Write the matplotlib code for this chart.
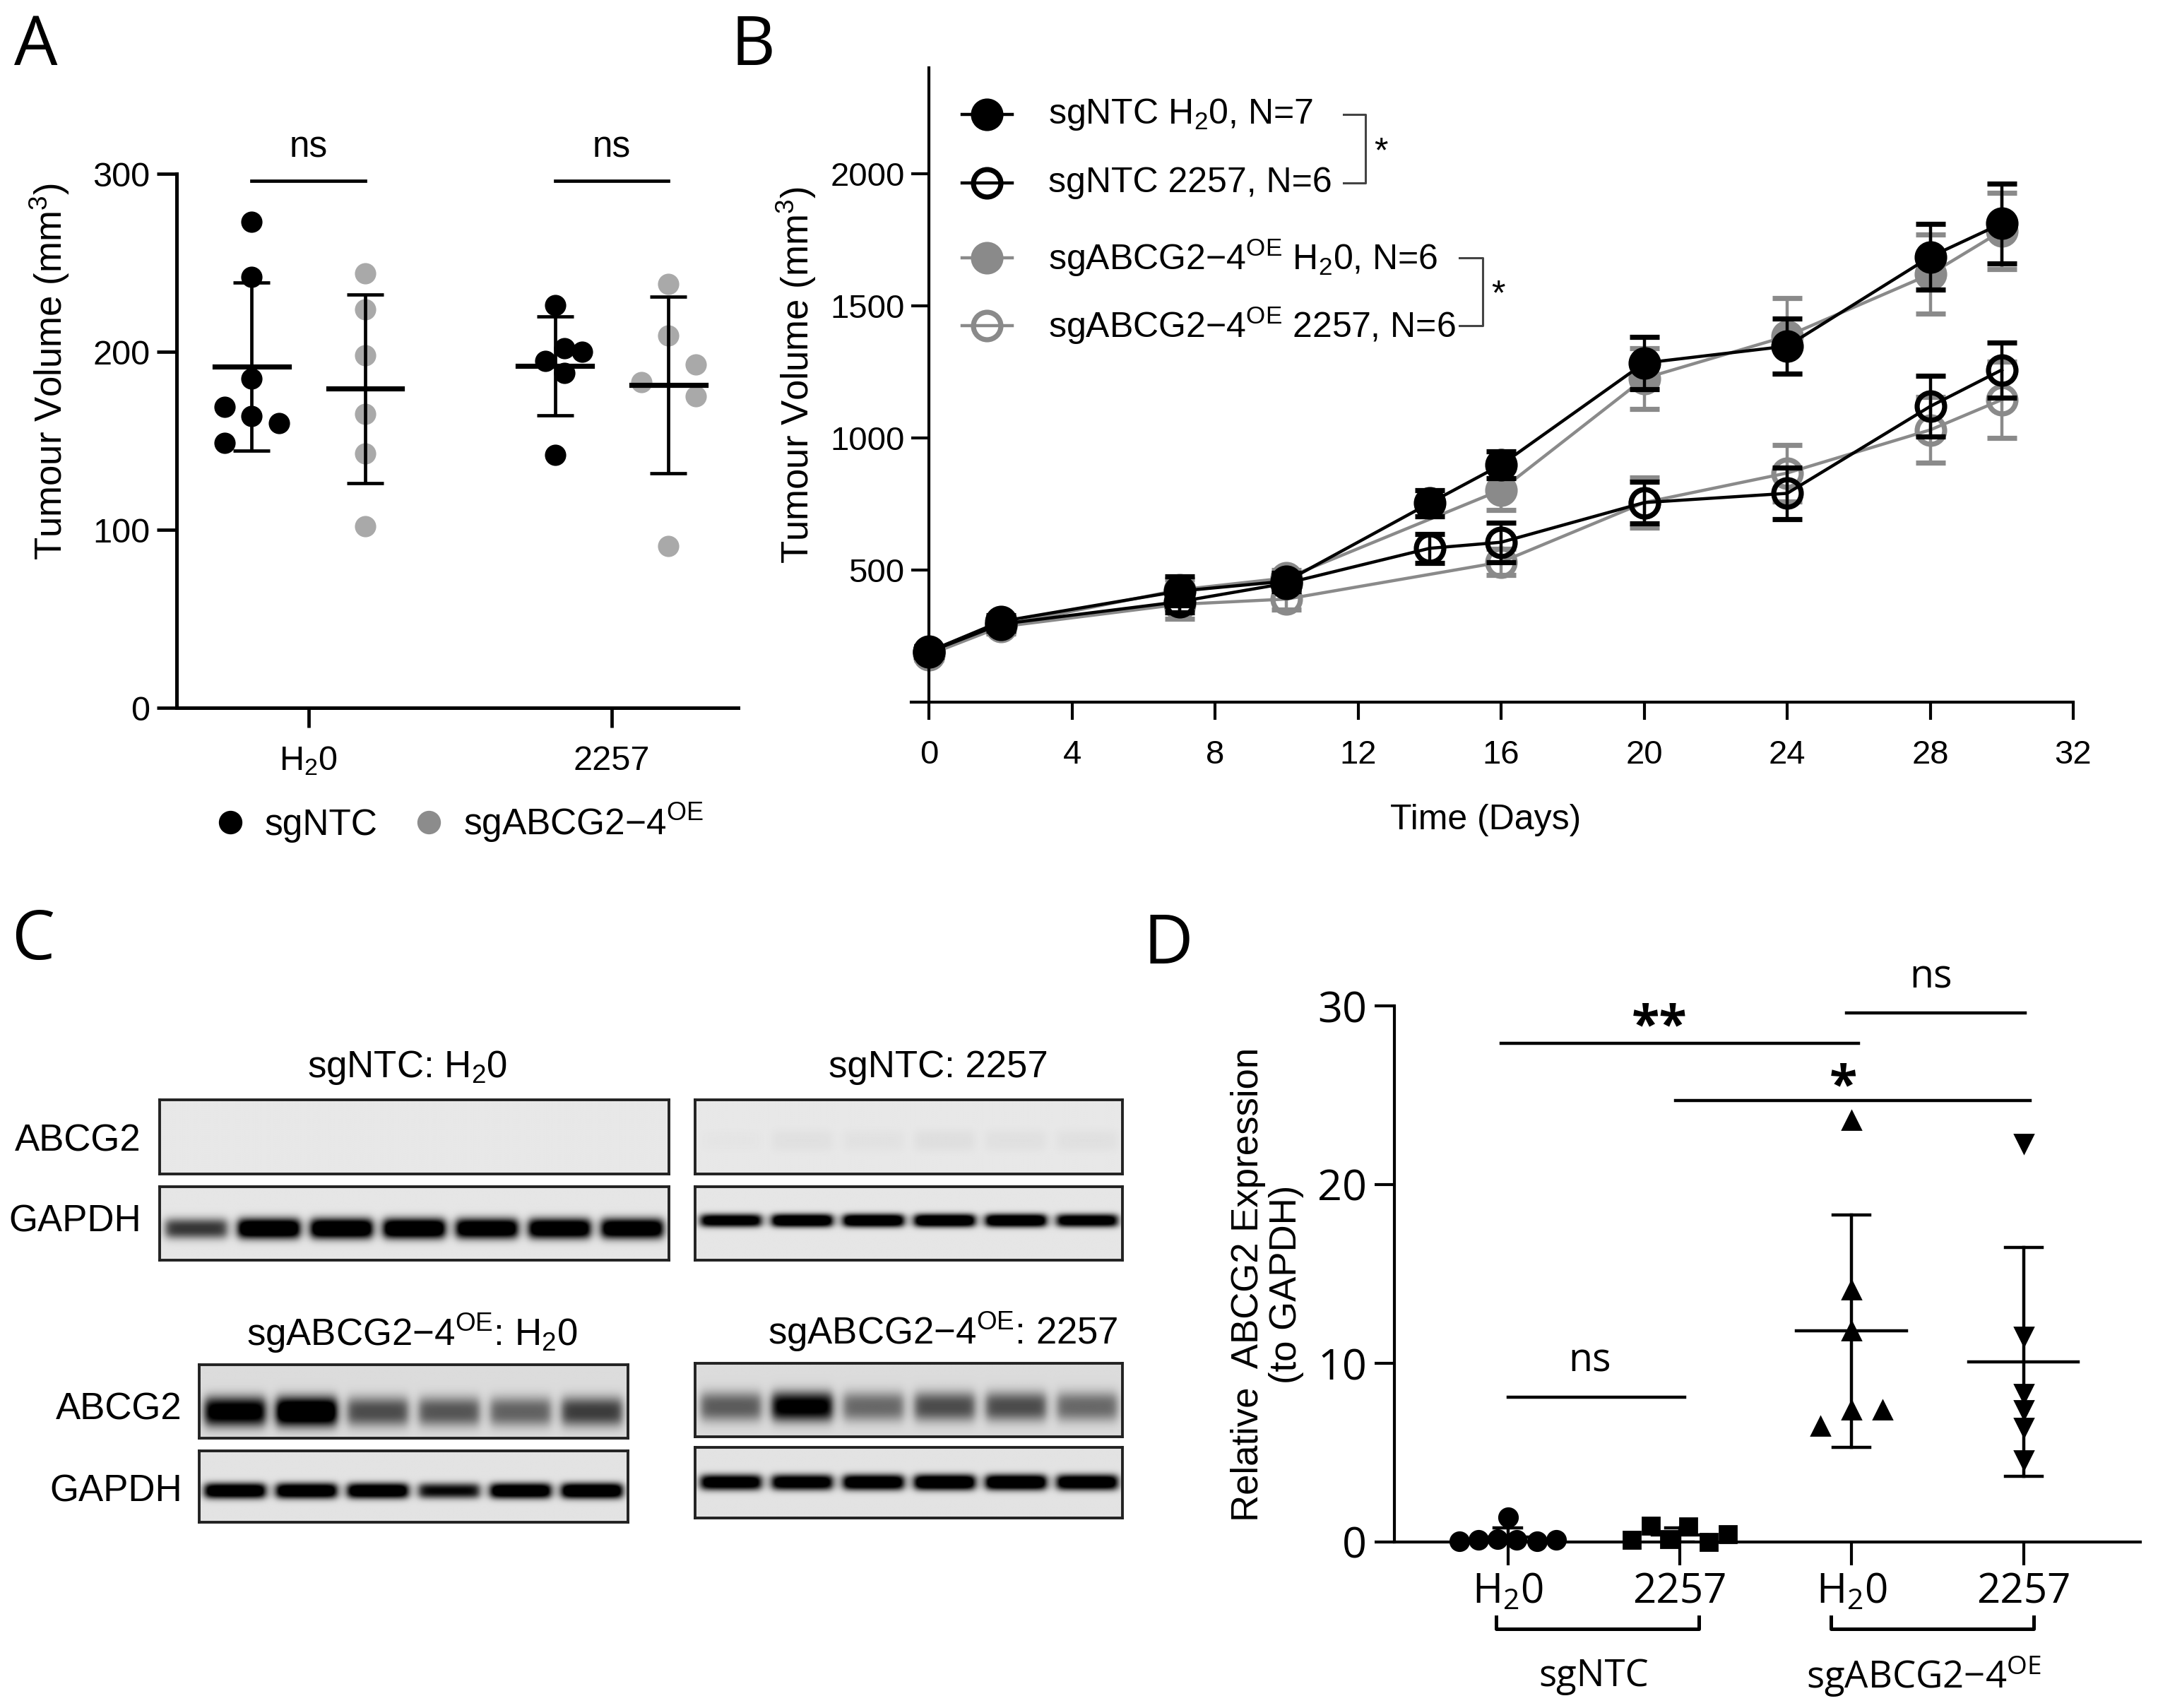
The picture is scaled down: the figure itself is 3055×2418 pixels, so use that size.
import numpy as np
import matplotlib
matplotlib.use("Agg")
import matplotlib.pyplot as plt
from matplotlib.lines import Line2D

plt.rcParams['font.family'] = ['Liberation Sans', 'DejaVu Sans']
plt.rcParams['mathtext.fontset'] = 'custom'
plt.rcParams['mathtext.rm'] = 'Liberation Sans'
plt.rcParams['mathtext.it'] = 'Liberation Sans:italic'
plt.rcParams['mathtext.bf'] = 'Liberation Sans:bold'

H2O = r'H$_{\mathregular{2}}$0'
OE = r'sgABCG2−4$^{\mathregular{OE}}$'

# ---- panel A: tumour volume at start, per group
a_groups = [H2O, '2257']
a_ntc_h2o = [273, 242, 185, 169, 164, 160, 149]
a_ntc_h2o_dx = [0, 0, 0, -0.09, 0, 0.09, -0.09]
a_oe_h2o = [244, 224, 198, 165, 143, 102]
a_oe_h2o_dx = [0, 0, 0, 0, 0, 0]
a_ntc_2257 = [226, 195, 202, 200, 188, 142]
a_ntc_2257_dx = [0, -0.033, 0.032, 0.09, 0.032, 0]
a_oe_2257 = [238, 209, 183, 193, 175, 91]
a_oe_2257_dx = [0, 0, -0.09, 0.09, 0.09, 0]

# ---- panel B: growth curves (mean +/- SEM)
days_ntc = [0, 2, 7, 10, 14, 16, 20, 24, 28, 30]
days_oe = [0, 2, 7, 10, 16, 20, 24, 28, 30]
ntc_h2o = [192, 305, 420, 458, 753, 898, 1283, 1347, 1685, 1811]
ntc_h2o_err = [20, 25, 55, 30, 50, 50, 100, 104, 125, 150]
ntc_2257 = [190, 295, 380, 450, 582, 605, 755, 790, 1119, 1257]
ntc_2257_err = [20, 25, 40, 30, 55, 75, 80, 98, 115, 104]
oe_h2o = [185, 290, 425, 470, 803, 1225, 1385, 1619, 1783]
oe_h2o_err = [20, 25, 40, 30, 75, 115, 143, 150, 145]
oe_2257 = [180, 285, 370, 390, 530, 755, 867, 1030, 1144]
oe_2257_err = [20, 25, 55, 40, 50, 95, 107, 125, 145]
b_labels = [r'sgNTC H$_{\mathregular{2}}$0, N=7', 'sgNTC 2257, N=6',
            r'sgABCG2−4$^{\mathregular{OE}}$ H$_{\mathregular{2}}$0, N=6',
            r'sgABCG2−4$^{\mathregular{OE}}$ 2257, N=6']

# ---- panel C: blot band intensities per lane
c_ntc_h2o_abcg2 = [0, 0, 0, 0, 0, 0, 0]
c_ntc_h2o_gapdh = [0.55, 1.0, 1.0, 1.0, 0.95, 0.95, 0.95]
c_ntc_2257_abcg2 = [0.01, 0.025, 0.02, 0.03, 0.025, 0.025]
c_ntc_2257_gapdh = [0.9, 1.0, 1.0, 1.0, 1.0, 0.9]
c_oe_h2o_abcg2 = [0.8, 0.95, 0.45, 0.42, 0.38, 0.5]
c_oe_h2o_gapdh = [0.95, 0.95, 0.95, 0.7, 0.95, 1.0]
c_oe_2257_abcg2 = [0.4, 0.75, 0.36, 0.45, 0.45, 0.36]
c_oe_2257_gapdh = [0.9, 0.9, 0.95, 1.0, 1.0, 0.95]

# ---- panel D: relative ABCG2 expression
d_ticklabels = [H2O, '2257', H2O, '2257']
d_ntc_h2o = [0.05, 0.1, 0.15, 1.4, 0.1, 0.05, 0.1]
d_ntc_h2o_dx = [-0.28, -0.17, -0.06, 0.0, 0.05, 0.17, 0.28]
d_ntc_2257 = [0.1, 0.9, 0.15, 0.85, 0.0, 0.45]
d_ntc_2257_dx = [-0.28, -0.17, -0.06, 0.05, 0.17, 0.28]
d_oe_h2o = [23.6, 14.1, 11.8, 6.5, 7.4, 7.4]
d_oe_h2o_dx = [0, 0, 0, -0.18, 0, 0.18]
d_oe_2257 = [22.3, 11.5, 8.3, 7.4, 6.4, 4.6]
d_oe_2257_dx = [0, 0, 0, 0, 0, 0]

W, H = 3055, 2418
fig = plt.figure(figsize=(W / 200, H / 200), dpi=200)


def fx(px):
    return px / W


def fy(py):
    return 1 - py / H


def style_axis(ax, lw=1.6):
    ax.spines['top'].set_visible(False)
    ax.spines['right'].set_visible(False)
    for s in ('left', 'bottom'):
        ax.spines[s].set_linewidth(lw)


letter_font = dict(family=['Open Sans', 'DejaVu Sans'], fontsize=35, va='top')
fig.text(fx(20), fy(18), 'A', **letter_font)
fig.text(fx(1034), fy(18), 'B', **letter_font)
fig.text(fx(16), fy(1284), 'C', **letter_font)
fig.text(fx(1618), fy(1290), 'D', **letter_font)

# ================= A =================
axA = fig.add_axes([fx(250), fy(1002), fx(1045) - fx(250), fy(246) - fy(1002)])
style_axis(axA, 1.8)
grey_a = '#a9a9a9'
a_sets = [(0, -1, a_ntc_h2o, a_ntc_h2o_dx, 'black'),
          (0, 1, a_oe_h2o, a_oe_h2o_dx, grey_a),
          (1, -1, a_ntc_2257, a_ntc_2257_dx, 'black'),
          (1, 1, a_oe_2257, a_oe_2257_dx, grey_a)]
for g, side, vals, dx, col in a_sets:
    xc = g + side * 0.187
    axA.scatter(xc + np.array(dx), vals, s=118, color=col, zorder=3, linewidths=0)
    m = np.mean(vals)
    sd = np.std(vals, ddof=1)
    axA.plot([xc - 0.122, xc + 0.122], [m, m], color='black', lw=2.6, zorder=4)
    axA.errorbar(xc, m, yerr=sd, color='black', capsize=9.5, capthick=1.7,
                 elinewidth=1.7, zorder=4)
for g in (0, 1):
    axA.plot([g - 0.187, g + 0.187], [296, 296], color='black', lw=1.7, clip_on=False)
    axA.text(g, 305, 'ns', ha='center', va='bottom', fontsize=18.5)
axA.set_xlim(-0.435, 1.417)
axA.set_ylim(0, 300)
axA.set_yticks([0, 100, 200, 300])
axA.set_xticks([0, 1])
axA.set_xticklabels(a_groups)
axA.tick_params(axis='both', labelsize=17.5, width=1.7, length=10)
axA.tick_params(axis='x', pad=9)
axA.set_ylabel(r'Tumour Volume (mm$^{\mathregular{3}}$)', fontsize=19)
axA.yaxis.set_label_coords(-0.188, 0.63)
a_handles = [Line2D([], [], ls='', marker='o', ms=11, color='black'),
             Line2D([], [], ls='', marker='o', ms=11, color='#8c8c8c')]
fig.legend(a_handles, ['sgNTC', OE], ncol=2, frameon=False, fontsize=18.5,
           loc='center', bbox_to_anchor=(fx(648), fy(1165)), handlelength=1.0,
           handletextpad=0.45, columnspacing=0.9)

# ================= B =================
axB = fig.add_axes([fx(1290), fy(994), fx(2935) - fx(1290), fy(96) - fy(994)])
style_axis(axB, 1.5)
axB.spines['left'].set_position(('data', 0))
grey_b = '#8a8a8a'
b_series = [(days_oe, oe_2257, oe_2257_err, grey_b, 'none', 2),
            (days_oe, oe_h2o, oe_h2o_err, grey_b, grey_b, 2),
            (days_ntc, ntc_2257, ntc_2257_err, 'black', 'none', 3),
            (days_ntc, ntc_h2o, ntc_h2o_err, 'black', 'black', 3)]
for days, vals, err, col, face, z in b_series:
    axB.errorbar(days, vals, yerr=err, color=col, marker='o', ms=14, mfc=face,
                 mec=col, mew=2.6, lw=1.6, capsize=7.5, capthick=2.0,
                 elinewidth=1.6, zorder=z, clip_on=False)
axB.set_xlim(-0.5, 32)
axB.set_ylim(0, 2400)
axB.set_xticks(range(0, 33, 4))
axB.set_yticks([500, 1000, 1500, 2000])
axB.tick_params(axis='both', labelsize=17, width=1.5, length=9)
axB.tick_params(axis='x', pad=10)
axB.set_xlabel('Time (Days)', fontsize=18)
axB.xaxis.set_label_coords(0.494, -0.16)
axB.set_ylabel(r'Tumour Volume (mm$^{\mathregular{3}}$)', fontsize=19)
axB.yaxis.set_label_coords(-0.08, 0.516)

# hand-built legend with significance brackets
rows = [0.926, 0.818, 0.700, 0.5935]
styles = [('black', 'black'), ('black', 'none'), (grey_b, grey_b), (grey_b, 'none')]
for yy, (col, face), lab in zip(rows, styles, b_labels):
    axB.plot([0.044, 0.0651, 0.087], [yy, yy, yy], color=col, lw=1.6, marker='o',
             markevery=[1], ms=14, mfc=face, mec=col, mew=2.6,
             transform=axB.transAxes, clip_on=False)
    axB.text(0.118, yy, lab, transform=axB.transAxes, fontsize=18, va='center')
for (y1, y2, x0, x1) in [(rows[0], rows[1], 0.372, 0.3906), (rows[2], rows[3], 0.472, 0.4915)]:
    axB.plot([x0, x1, x1, x0], [y1, y1, y2, y2], color='#444444', lw=1.1,
             transform=axB.transAxes, clip_on=False)
    axB.text(x1 + 0.008, (y1 + y2) / 2 - 0.006, '*', transform=axB.transAxes,
             fontsize=18, ha='left', va='center')


# ================= C =================
def blot(x0, y0, x1, y1, lanes, bg, yc, h):
    ax = fig.add_axes([fx(x0), fy(y1), fx(x1) - fx(x0), fy(y0) - fy(y1)])
    n = len(lanes)
    X, Y = np.meshgrid(np.linspace(0, n, 700), np.linspace(0, 1, 140))
    img = np.full(X.shape, bg)
    for i, v in enumerate(lanes):
        hx = 1 / (1 + np.exp((np.abs(X - (i + 0.5)) - 0.42) / 0.035))
        vy = np.exp(-np.abs((Y - yc) / h) ** 2.5)
        img = img + 1.25 * v * hx * vy
    ax.imshow(np.clip(img, 0, 1), cmap='gray_r', vmin=0, vmax=1, aspect='auto',
              extent=[0, n, 0, 1], origin='lower', interpolation='bilinear')
    ax.set_xticks([])
    ax.set_yticks([])
    for s in ax.spines.values():
        s.set_linewidth(1.4)
        s.set_color('#222222')
    return ax


blot(226, 1557, 947, 1662, c_ntc_h2o_abcg2, 0.09, 0.5, 0.15)
blot(226, 1680, 947, 1784, c_ntc_h2o_gapdh, 0.10, 0.43, 0.14)
blot(984, 1557, 1589, 1662, c_ntc_2257_abcg2, 0.09, 0.45, 0.15)
blot(984, 1680, 1589, 1784, c_ntc_2257_gapdh, 0.10, 0.54, 0.09)
blot(282, 1932, 889, 2036, c_oe_h2o_abcg2, 0.14, 0.36, 0.2)
blot(282, 2054, 889, 2155, c_oe_h2o_gapdh, 0.11, 0.44, 0.11)
blot(984, 1930, 1589, 2034, c_oe_2257_abcg2, 0.14, 0.41, 0.2)
blot(984, 2049, 1589, 2149, c_oe_2257_gapdh, 0.11, 0.50, 0.11)

cfont = dict(fontsize=19, va='center')
fig.text(fx(577), fy(1511), r'sgNTC: H$_{\mathregular{2}}$0', ha='center', **cfont)
fig.text(fx(1328), fy(1511), 'sgNTC: 2257', ha='center', **cfont)
fig.text(fx(584), fy(1887), r'sgABCG2−4$^{\mathregular{OE}}$: H$_{\mathregular{2}}$0', ha='center', **cfont)
fig.text(fx(1334), fy(1885), r'sgABCG2−4$^{\mathregular{OE}}$: 2257', ha='center', **cfont)
fig.text(fx(200), fy(1615), 'ABCG2', ha='right', **cfont)
fig.text(fx(200), fy(1730), 'GAPDH', ha='right', **cfont)
fig.text(fx(258), fy(1995), 'ABCG2', ha='right', **cfont)
fig.text(fx(258), fy(2112), 'GAPDH', ha='right', **cfont)

# ================= D =================
dfont = ['Open Sans', 'DejaVu Sans']
axD = fig.add_axes([fx(1974), fy(2183), fx(3030) - fx(1974), fy(1424) - fy(2183)])
style_axis(axD, 1.5)
d_sets = [(0, d_ntc_h2o, d_ntc_h2o_dx, 'o', 9.5, 0.16, 0.08),
          (1, d_ntc_2257, d_ntc_2257_dx, 's', 8.5, 0.16, 0.08),
          (2, d_oe_h2o, d_oe_h2o_dx, '^', 9.5, 0.32, 0.107),
          (3, d_oe_2257, d_oe_2257_dx, 'v', 9.5, 0.32, 0.107)]
for g, vals, dx, mk, ms, half, cap in d_sets:
    axD.plot(g + np.array(dx), vals, ls='', marker=mk, ms=ms, color='black',
             zorder=3, clip_on=False)
    m = np.mean(vals)
    sd = np.std(vals, ddof=1)
    axD.plot([g - half, g + half], [m, m], color='black', lw=1.6, zorder=4)
    axD.plot([g - cap, g + cap], [m + sd, m + sd], color='black', lw=1.6, zorder=4)
    axD.plot([g - cap, g + cap], [m - sd, m - sd], color='black', lw=1.6, zorder=4)
    axD.plot([g, g], [m - sd, m + sd], color='black', lw=1.6, zorder=4)
axD.set_xlim(-0.66, 3.68)
axD.set_ylim(0, 30)
axD.set_yticks([0, 10, 20, 30])
axD.set_xticks([0, 1, 2, 3])
axD.set_xticklabels(d_ticklabels, family=dfont)
for t in axD.get_yticklabels():
    t.set_family(dfont)
axD.tick_params(axis='y', labelsize=22, width=1.5, length=10, pad=4)
axD.tick_params(axis='x', labelsize=21, width=1.5, length=12, pad=3)
axD.set_ylabel('Relative  ABCG2 Expression\n(to GAPDH)', fontsize=19, linespacing=1.1)
axD.yaxis.set_label_coords(-0.121, 0.48)

sig = [(-0.04, 2.04, 27.9, '**', 0.88, 28.75, 26),
       (0.974, 3.04, 24.7, '*', 1.95, 25.4, 26),
       (1.97, 3.01, 29.6, 'ns', 2.46, 31.6, 20),
       (0.0, 1.03, 8.1, 'ns', 0.476, 10.1, 20)]
for xa, xb, yl, lab, xt, yt, fs in sig:
    axD.plot([xa, xb], [yl, yl], color='black', lw=1.6, clip_on=False)
    axD.text(xt, yt, lab, ha='center', va='center', fontsize=fs, family=dfont,
             fontweight='bold' if '*' in lab else 'normal')

for xa, xb, xt, lab in [(-0.07, 1.11, 0.5, 'sgNTC'), (1.88, 3.06, 2.42, OE)]:
    axD.plot([xa, xa, xb, xb], [-4.2, -4.88, -4.88, -4.2], color='black', lw=1.8,
             clip_on=False)
    axD.text(xt, -7.5, lab, ha='center', va='center', fontsize=19, family=dfont)

fig.savefig('out.png', dpi=200)
